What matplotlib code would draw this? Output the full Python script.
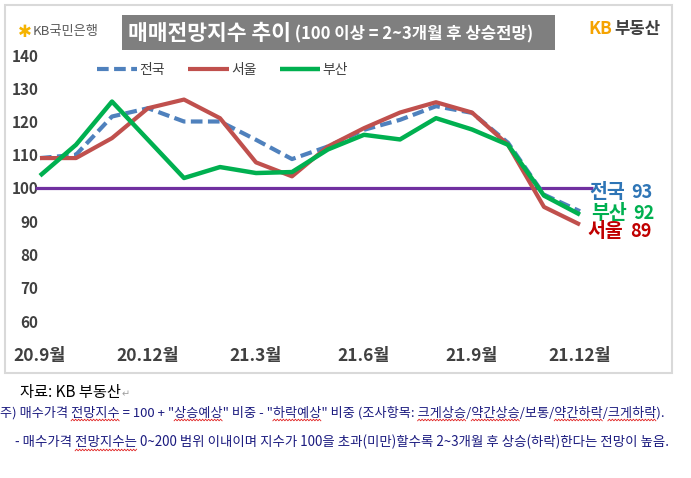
import matplotlib
matplotlib.use('Agg')
import numpy as np
import matplotlib.pyplot as plt
from matplotlib.patches import Rectangle
from matplotlib.text import Annotation
from matplotlib.lines import Line2D

plt.rcParams['font.family'] = ['Noto Sans CJK KR', 'DejaVu Sans']

# ---------------- data ----------------
months = list(range(16))  # 20.9 ... 21.12
tick_pos = [0, 3, 6, 9, 12, 15]
tick_labels = ['20.9월', '20.12월', '21.3월', '21.6월', '21.9월', '21.12월']
national = [109.0, 110.0, 121.5, 124.0, 120.0, 120.0, 114.5, 108.7, 112.5, 117.5, 120.5, 124.6, 122.6, 113.6, 98.0, 93.0]
seoul = [109.0, 109.0, 115.0, 124.0, 126.6, 121.0, 107.7, 103.5, 112.5, 118.0, 122.7, 125.8, 122.7, 113.0, 94.3, 89.0]
busan = [103.7, 113.0, 126.0, 114.5, 103.0, 106.3, 104.5, 104.8, 111.6, 116.0, 114.6, 121.0, 117.6, 113.0, 97.7, 92.0]
series_names = ['전국', '서울', '부산']
end_values = ['93', '89', '92']
baseline = 100
yticks = [60, 70, 80, 90, 100, 110, 120, 130, 140]

title_main = '매매전망지수 추이'
title_sub = ' (100 이상 = 2~3개월 후 상승전망)'
source_text = '자료: KB 부동산'
note1 = '주) 매수가격 전망지수 = 100 + "상승예상" 비중 - "하락예상" 비중 (조사항목: 크게상승/약간상승/보통/약간하락/크게하락).'
note2 = '- 매수가격 전망지수는 0~200 범위 이내이며 지수가 100을 초과(미만)할수록 2~3개월 후 상승(하락)한다는 전망이 높음.'
note1_marked = ['전망지수', '상승예상', '하락예상', '크게상승', '약간상승', '약간하락', '크게하락']
note2_marked = ['전망지수는']

# ---------------- figure ----------------
W, H = 691, 478
fig = plt.figure(figsize=(W / 100, H / 100), dpi=100)
fig.patch.set_facecolor('white')


def fx(x):
    return x / W


def fy(y):
    return 1 - y / H


# outer chart border
fig.patches.append(Rectangle((fx(5), fy(373)), fx(672) - fx(5), fy(5) - fy(373),
                             transform=fig.transFigure, fill=False,
                             edgecolor='#d9d9d9', lw=1.5))

ax = fig.add_axes([fx(40), fy(321), (580 - 40) / W, (321 - 55) / H])
ax.set_xlim(0, 15)
ax.set_ylim(60, 140)
for s in ax.spines.values():
    s.set_visible(False)
ax.set_facecolor('none')

ax.set_yticks(yticks)
ax.set_yticklabels([str(v) for v in yticks], fontweight='bold')
ax.tick_params(axis='y', length=0, pad=1, labelsize=11, labelcolor='#404040')
ax.set_xticks(tick_pos)
ax.set_xticklabels(tick_labels, fontweight='bold')
ax.tick_params(axis='x', length=0, pad=19, labelsize=12.5, labelcolor='#404040')

# baseline 100
ax.hlines(baseline, -0.15, 15.35, colors='#7030a0', lw=2.3, zorder=3, clip_on=False)

c_nat, c_seo, c_bus = '#4f81bd', '#c0504d', '#00b050'
ax.plot(months, national, color=c_nat, lw=3.0, linestyle=(0, (2.8, 1.3)),
        dash_capstyle='butt', zorder=4, clip_on=False, label=series_names[0])
ax.plot(months, seoul, color=c_seo, lw=3.0, zorder=5, clip_on=False,
        solid_capstyle='butt', label=series_names[1])
ax.plot(months, busan, color=c_bus, lw=3.2, zorder=6, clip_on=False,
        solid_capstyle='butt', label=series_names[2])

leg = fig.legend(loc='center left', bbox_to_anchor=(fx(97), fy(70)), ncol=3,
                 frameon=False, fontsize=10, handlelength=2.9, handletextpad=0.15,
                 columnspacing=1.7, borderpad=0, borderaxespad=0)
for t in leg.get_texts():
    t.set_color('#404040')

# end labels
label_specs = [
    (series_names[0], end_values[0], national[-1], '#2e75b6', (9, 19)),
    (series_names[2], end_values[2], busan[-1], '#00b050', (11, 1)),
    (series_names[1], end_values[1], seoul[-1], '#c00000', (7, -7)),
]
for name, val, yv, col, off in label_specs:
    t = ax.annotate(name, xy=(months[-1], yv), xytext=off, textcoords='offset pixels',
                    ha='left', va='center', fontsize=14, fontweight='bold', color=col,
                    zorder=7, annotation_clip=False)
    ax.annotate(val, xy=(1, 0.5), xycoords=t, xytext=(7, 0), textcoords='offset pixels',
                ha='left', va='center', fontsize=13, fontweight='bold', color=col,
                zorder=7, annotation_clip=False)

# title box
fig.patches.append(Rectangle((fx(122), fy(50)), fx(555) - fx(122), fy(15) - fy(50),
                             transform=fig.transFigure, facecolor='#7f7f7f',
                             edgecolor='none'))
tm = fig.text(fx(128), fy(33), title_main, color='white', fontsize=15.5,
              fontweight='bold', ha='left', va='center')
fig.add_artist(Annotation(title_sub, xy=(1, 0.5), xycoords=tm, xytext=(0, -1),
                          textcoords='offset pixels', ha='left', va='center',
                          color='white', fontsize=12, fontweight='bold'))

# KB국민은행 logo
fig.text(fx(18), fy(32), '✱', color='#f5b300', fontsize=12, ha='left', va='center',
         family=['DejaVu Sans'])
fig.text(fx(33), fy(32), 'KB국민은행', color='#5a5a5a', fontsize=9.5, ha='left', va='center')

# KB부동산 logo
kb = fig.text(fx(588), fy(29), 'KB', color='#f5a300', fontsize=12.5, ha='left',
              va='center', fontweight='bold')
fig.add_artist(Annotation('부동산', xy=(1, 0.5), xycoords=kb, xytext=(2, 0),
                          textcoords='offset pixels', ha='left', va='center',
                          color='#404040', fontsize=12, fontweight='bold'))

# bottom texts
src = fig.text(fx(20), fy(392), source_text, color='black', fontsize=11,
               ha='left', va='center')
fig.add_artist(Annotation('↵', xy=(1, 0.5), xycoords=src, xytext=(1, -2),
                          textcoords='offset pixels', ha='left', va='center',
                          color='#a0a0a0', fontsize=7, family=['DejaVu Sans']))

navy = '#1c1c80'
n1 = fig.text(fx(0), fy(413), note1, color=navy, fontsize=9.5, ha='left', va='center')
n2 = fig.text(fx(15), fy(442), note2, color=navy, fontsize=9.5, ha='left', va='center')

# fit note widths to the reference
fig.canvas.draw()
r = fig.canvas.get_renderer()
for t, target in ((n1, 663), (n2, 668 - 15)):
    w = t.get_window_extent(r).width
    t.set_fontsize(t.get_fontsize() * target / w)
fig.canvas.draw()


def text_width(s, fs):
    tmp = fig.text(0, 0, s, fontsize=fs)
    w = tmp.get_window_extent(r).width
    tmp.remove()
    return w


def squiggle(text_obj, full, words, y_px):
    fs = text_obj.get_fontsize()
    bb = text_obj.get_window_extent(r)
    x_start = bb.x0
    pos = 0
    for wd in words:
        i = full.find(wd, pos)
        if i < 0:
            continue
        pos = i + len(wd)
        x0 = x_start + text_width(full[:i], fs)
        x1 = x_start + text_width(full[:i + len(wd)], fs)
        xs = np.arange(x0, x1, 1.5)
        ys = y_px + np.where(np.arange(len(xs)) % 2 == 0, -0.8, 0.8)
        fig.add_artist(Line2D(xs / W, ys / H, transform=fig.transFigure,
                              color='#e02020', lw=0.6))


squiggle(n1, note1, note1_marked, H - 420)
squiggle(n2, note2, note2_marked, H - 450)

fig.savefig('out.png', dpi=100, facecolor='white')
